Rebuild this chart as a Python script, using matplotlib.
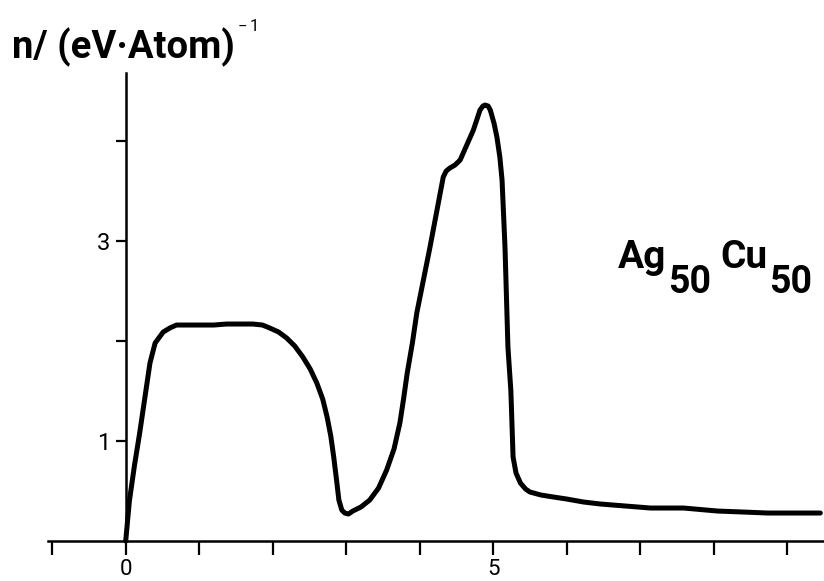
import matplotlib
matplotlib.use("Agg")
import matplotlib.pyplot as plt

plt.rcParams["font.family"] = ["Roboto", "DejaVu Sans"]

# Density of states of Ag50Cu50 versus energy (eV)
energy = [0.00, 0.05, 0.12, 0.19, 0.26, 0.33, 0.40, 0.51, 0.60, 0.69, 0.85, 1.01,
          1.20, 1.37, 1.55, 1.73, 1.86, 1.96, 2.08, 2.19, 2.30, 2.41, 2.51, 2.60,
          2.68, 2.74, 2.79, 2.83, 2.87, 2.90, 2.94, 2.98, 3.03, 3.09, 3.20, 3.32,
          3.44, 3.55, 3.65, 3.73, 3.78, 3.83, 3.90, 3.96, 4.05, 4.14, 4.23, 4.32,
          4.36, 4.41, 4.48, 4.55, 4.64, 4.73, 4.78, 4.82, 4.86, 4.89, 4.93, 4.96,
          5.01, 5.05, 5.09, 5.12, 5.16, 5.20, 5.24, 5.27, 5.31, 5.37, 5.44, 5.50,
          5.65, 5.82, 6.00, 6.23, 6.46, 6.80, 7.14, 7.59, 8.05, 8.40, 8.73, 9.10,
          9.45]
dos = [0.00, 0.40, 0.76, 1.08, 1.43, 1.78, 1.98, 2.09, 2.13, 2.16, 2.16, 2.16,
       2.16, 2.17, 2.17, 2.17, 2.16, 2.13, 2.09, 2.03, 1.95, 1.84, 1.72, 1.58,
       1.42, 1.24, 1.05, 0.84, 0.60, 0.41, 0.31, 0.28, 0.27, 0.30, 0.34, 0.41,
       0.53, 0.71, 0.92, 1.18, 1.42, 1.68, 1.98, 2.28, 2.61, 2.94, 3.29, 3.64,
       3.70, 3.73, 3.76, 3.81, 3.96, 4.11, 4.22, 4.31, 4.35, 4.36, 4.35, 4.31,
       4.18, 4.04, 3.84, 3.61, 2.94, 1.94, 1.50, 0.84, 0.68, 0.58, 0.52, 0.49,
       0.46, 0.44, 0.42, 0.39, 0.37, 0.35, 0.33, 0.33, 0.30, 0.29, 0.28, 0.28,
       0.28]

x_ticks = [-1, 0, 1, 2, 3, 4, 5, 6, 7, 8, 9]
x_ticklabels = ["", "0", "", "", "", "", "5", "", "", "", ""]
y_ticks = [1, 2, 3, 4]
y_ticklabels = ["1", "", "3", ""]

fig = plt.figure(figsize=(8.24, 5.81), dpi=100)
ax = fig.add_axes([0.058, 0.0688, 0.942, 0.8055])

ax.plot(energy, dos, color="black", lw=3.6, solid_joinstyle="round",
        solid_capstyle="round", clip_on=False)

ax.set_xlim(-1.06, 9.5)
ax.set_ylim(0, 4.68)

for side in ("top", "right"):
    ax.spines[side].set_visible(False)
ax.spines["left"].set_position(("data", 0))
ax.spines["left"].set_linewidth(1.8)
ax.spines["bottom"].set_linewidth(1.8)

ax.set_xticks(x_ticks)
ax.set_xticklabels(x_ticklabels)
ax.set_yticks(y_ticks)
ax.set_yticklabels(y_ticklabels)
ax.tick_params(axis="x", direction="out", length=10, width=1.6, labelsize=16, pad=3)
ax.tick_params(axis="y", direction="out", length=7, width=1.6, labelsize=17, pad=4)

# axis title with superscript exponent
fig.text(0.014, 0.9, "n/ (eV\u00b7Atom)", fontsize=27.5, fontweight="bold",
         ha="left", va="baseline")
fig.text(0.289, 0.945, "\u2212", fontsize=12, ha="left", va="baseline")
fig.text(0.303, 0.947, "1", fontsize=12, ha="left", va="baseline")

# alloy label with large subscripts, placed piece by piece
renderer = fig.canvas.get_renderer()
fig_w = fig.get_figwidth() * fig.dpi
pieces = [("Ag", 28, 0.5387, 2), ("50", 27, 0.4957, 9),
          ("Cu", 28, 0.5387, 2), ("50", 27, 0.4957, 0)]
x = 0.750
for label, size, base, gap in pieces:
    t = fig.text(x, base, label, fontsize=size, fontweight="bold",
                 ha="left", va="baseline")
    bb = t.get_window_extent(renderer)
    x = (bb.x1 + gap) / fig_w

fig.savefig("out.png", dpi=100, facecolor="white")
